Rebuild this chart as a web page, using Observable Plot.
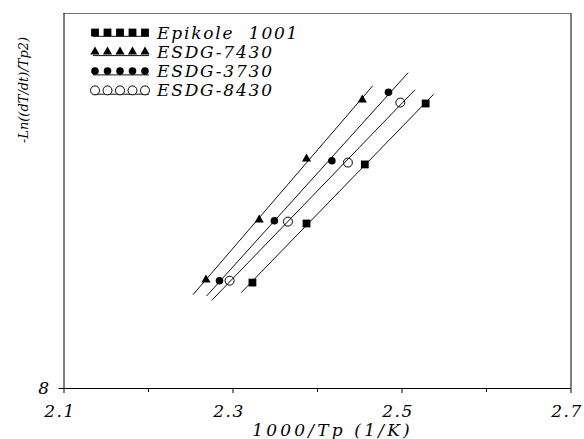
<!DOCTYPE html>
<html>
<head>
<meta charset="utf-8">
<script src="https://cdn.jsdelivr.net/npm/d3@7"></script>
<script src="https://cdn.jsdelivr.net/npm/@observablehq/plot@0.6"></script>
<style>
  body { margin: 0; background: #fff; }
  #chart { width: 584px; height: 439px; }
</style>
</head>
<body>
<div id="chart"></div>
<script>
// Kissinger plot: -ln(heating rate / Tp^2) against 1000/Tp
const seriesNames = ["Epikole 1001", "ESDG-7430", "ESDG-3730", "ESDG-8430"];

const epikoleX  = [2.323, 2.387, 2.456, 2.528];
const epikoleY  = [9.13, 9.76, 10.39, 11.04];
const esdg7430X = [2.268, 2.331, 2.387, 2.453];
const esdg7430Y = [9.16, 9.80, 10.45, 11.08];
const esdg3730X = [2.284, 2.349, 2.417, 2.484];
const esdg3730Y = [9.15, 9.79, 10.43, 11.16];
const esdg8430X = [2.296, 2.365, 2.436, 2.498];
const esdg8430Y = [9.15, 9.78, 10.41, 11.05];

// x range over which each fitted line is drawn
const fitStart = [2.310, 2.253, 2.269, 2.275];
const fitEnd   = [2.537, 2.465, 2.507, 2.515];

const majorTicks = [2.1, 2.3, 2.5, 2.7];
const minorTicks = [2.2, 2.4, 2.6];
const yTicks = [8];
const xTitle = "1000/Tp (1/K)";
const yTitle = "-Ln((dT/dt)/Tp2)";

const xsAll = [epikoleX, esdg7430X, esdg3730X, esdg8430X];
const ysAll = [epikoleY, esdg7430Y, esdg3730Y, esdg8430Y];

// marker look for each series
const symbols = ["square", "triangle", "circle", "circle"];
const fills   = ["#000", "#000", "#000", "none"];
const strokes = ["none", "none", "none", "#000"];
const radii   = [4.4, 3.4, 3.8, 4.5];

const points = seriesNames.flatMap((name, i) =>
  xsAll[i].map((x, j) => ({series: name, x, y: ysAll[i][j]})));

// least-squares line for each series
function fit(xs, ys) {
  const mx = d3.mean(xs), my = d3.mean(ys);
  const sxy = d3.sum(xs, (x, k) => (x - mx) * (ys[k] - my));
  const sxx = d3.sum(xs, x => (x - mx) ** 2);
  const b = sxy / sxx;
  return x => my + b * (x - mx);
}
const fitRows = seriesNames.flatMap((name, i) => {
  const f = fit(xsAll[i], ysAll[i]);
  return [fitStart[i], fitEnd[i]].map(x => ({series: name, x, y: f(x)}));
});

const serifFont = "'DejaVu Serif', 'Liberation Serif', serif";
const noLabel = () => "";

const chart = Plot.plot({
  width: 584,
  height: 439,
  marginLeft: 63.5,
  marginRight: 13.5,
  marginTop: 13,
  marginBottom: 51,
  x: {domain: [2.1, 2.7]},
  y: {domain: [8, 12]},
  style: {fontFamily: serifFont, fontStyle: "italic", fontSize: "17px", color: "#000", background: "#fff"},
  marks: [
    // box: solid left/right/bottom, lighter top edge
    Plot.ruleY([12], {stroke: "#777", strokeWidth: 1}),
    Plot.ruleX([2.1, 2.7], {stroke: "#000", strokeWidth: 1}),
    Plot.ruleY([8], {stroke: "#000", strokeWidth: 1}),
    // tick marks
    Plot.axisX({ticks: minorTicks, tickSize: 4, tickFormat: noLabel, label: null}),
    Plot.axisX({ticks: majorTicks, tickSize: 5, tickFormat: noLabel, label: null}),
    // tick labels, set a little left of their ticks
    Plot.axisX({ticks: majorTicks, tickSize: 0, tickPadding: 16, dx: -4,
                tickFormat: d => d.toFixed(1), label: null}),
    Plot.axisY({ticks: yTicks, tickSize: 5, tickPadding: 10, tickFormat: d => String(d), label: null}),
    Plot.text([xTitle], {text: d => d, frameAnchor: "bottom", dy: 47, dx: 15, fontSize: 17,
                         textAnchor: "middle"}),
    Plot.text([yTitle], {text: d => d, frameAnchor: "left", rotate: -90, dx: -40, dy: -111, fontSize: 13,
                         textAnchor: "middle"}),
    Plot.line(fitRows, {x: "x", y: "y", z: "series", stroke: "#111", strokeWidth: 1}),
    ...seriesNames.map((name, i) =>
      Plot.dot(points.filter(d => d.series === name), {
        x: "x", y: "y", symbol: symbols[i], r: radii[i],
        fill: fills[i], stroke: strokes[i], strokeWidth: 1
      }))
  ]
});

document.getElementById("chart").append(chart);

const svg = d3.select(chart);

// wide, typewriter-like spacing of the axis texts
svg.selectAll("text")
  .filter(function () { return majorTicks.map(t => t.toFixed(1)).includes(this.textContent); })
  .style("letter-spacing", "1.5px");
svg.selectAll("text")
  .filter(function () { return this.textContent === xTitle; })
  .style("letter-spacing", "3.2px");

// legend in the upper-left corner of the frame
const symbolTypes = {square: d3.symbolSquare, triangle: d3.symbolTriangle, circle: d3.symbolCircle};
const legend = svg.append("g").attr("transform", "translate(95,32.5)");
seriesNames.forEach((name, i) => {
  const row = legend.append("g").attr("transform", `translate(0,${i * 19.3})`);
  row.append("line")
    .attr("x1", -2).attr("x2", 54).attr("y1", 3.8).attr("y2", 3.8)
    .attr("stroke", "#111").attr("stroke-width", 1);
  for (let k = 0; k < 5; ++k) {
    row.append("path")
      .attr("transform", `translate(${k * 12.5},0)`)
      .attr("d", d3.symbol(symbolTypes[symbols[i]], Math.PI * radii[i] * radii[i])())
      .attr("fill", fills[i] === "none" ? "#fff" : fills[i])
      .attr("stroke", strokes[i]);
  }
  row.append("text")
    .attr("x", 62).attr("y", 6)
    .attr("text-anchor", "start")
    .attr("font-family", serifFont).attr("font-style", "italic")
    .attr("font-size", 17).attr("letter-spacing", "1.8px")
    .attr("xml:space", "preserve")
    .text(i === 0 ? "Epikole  1001" : name);
});
</script>
</body>
</html>
